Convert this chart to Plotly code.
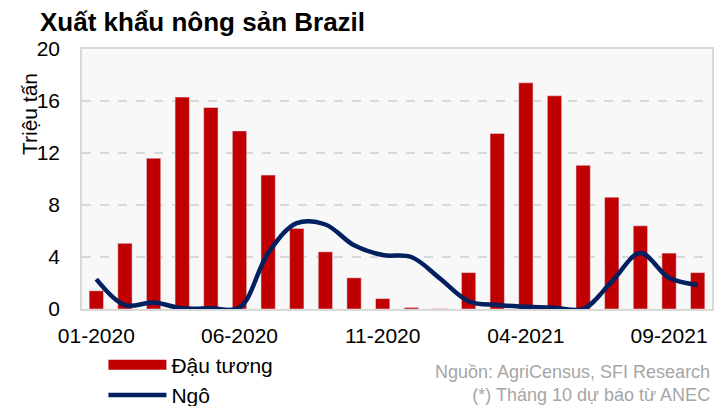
import plotly.graph_objects as go

# Tháng (01-2020 .. 10-2021)
months = ["01-2020", "02-2020", "03-2020", "04-2020", "05-2020", "06-2020",
          "07-2020", "08-2020", "09-2020", "10-2020", "11-2020", "12-2020",
          "01-2021", "02-2021", "03-2021", "04-2021", "05-2021", "06-2021",
          "07-2021", "08-2021", "09-2021", "10-2021"]

# Đậu tương (triệu tấn)
soy = [1.4, 5.05, 11.6, 16.3, 15.5, 13.7, 10.3, 6.2, 4.4, 2.4, 0.8, 0.12,
       0.03, 2.8, 13.5, 17.4, 16.4, 11.05, 8.6, 6.4, 4.3, 2.8]

# Ngô (triệu tấn)
corn = [2.3, 0.3, 0.5, 0.05, 0.05, 0.1, 4.3, 6.6, 6.5, 4.9, 4.15, 4.0,
        2.35, 0.6, 0.3, 0.18, 0.1, 0.0, 2.1, 4.3, 2.4, 1.85]

tick_labels = ["01-2020", "06-2020", "11-2020", "04-2021", "09-2021"]
y_ticks = [0, 4, 8, 12, 16, 20]

RED = "#c00000"
NAVY = "#002060"
FONT = "Liberation Sans, Arial, sans-serif"

fig = go.Figure()

fig.add_trace(go.Bar(
    x=months, y=soy, name="Đậu tương", marker_color=RED,
    showlegend=False, legendgroup="soy",
))
# mục chú thích dạng thanh dài như Excel
fig.add_trace(go.Scatter(
    x=[None], y=[None], mode="lines", name="Đậu tương",
    line=dict(color=RED, width=10), legendgroup="soy",
))
fig.add_trace(go.Scatter(
    x=months, y=corn, mode="lines", name="Ngô",
    line=dict(color=NAVY, width=4.5, shape="spline", smoothing=1),
))

fig.update_layout(
    width=718, height=406,
    margin=dict(l=82, r=6, t=49, b=97, autoexpand=False),
    paper_bgcolor="white",
    plot_bgcolor="#f8f8f8",
    font=dict(family=FONT, size=21, color="black"),
    bargap=0.5,
    title=dict(
        text="<b>Xuất khẩu nông sản Brazil</b>",
        x=40 / 718, xanchor="left", xref="container",
        y=1 - 22 / 406, yanchor="middle", yref="container",
        font=dict(size=26, color="black"),
    ),
    legend=dict(
        x=0.034, xanchor="left", y=-0.137, yanchor="top",
        bgcolor="rgba(0,0,0,0)", itemwidth=58,
        font=dict(size=21), tracegroupgap=0,
    ),
    xaxis=dict(
        type="category", tickmode="array", tickvals=tick_labels,
        ticktext=tick_labels, showgrid=False,
        showline=True, linecolor="#d9d9d9", linewidth=1.5, mirror=True,
        ticks="", ticklabelstandoff=7,
    ),
    yaxis=dict(
        range=[0, 20], tickvals=y_ticks, showgrid=True,
        gridcolor="#d9d9d9", griddash="dash", gridwidth=1.5,
        showline=True, linecolor="#d9d9d9", linewidth=1.5, mirror=True,
        ticks="", ticklabelstandoff=16, zeroline=False,
    ),
)

fig.add_annotation(
    text="Triệu tấn", textangle=-90, showarrow=False,
    xref="paper", yref="paper", x=-0.084, y=0.75,
    xanchor="center", yanchor="middle", font=dict(size=21),
)
fig.add_annotation(
    text="Nguồn: AgriCensus, SFI Research<br>(*) Tháng 10 dự báo từ ANEC",
    showarrow=False, align="right",
    xref="paper", yref="paper", x=1.0, y=-0.285,
    xanchor="right", yanchor="middle",
    font=dict(size=18, color="#a6a6a6"),
)

# bỏ lề mặc định của trang để biểu đồ khớp đúng khung 718x406
fig.write_html(
    "out.html",
    config={"displayModeBar": False},
    post_script="document.body.style.margin='0';"
                "document.body.style.overflow='hidden';",
)
